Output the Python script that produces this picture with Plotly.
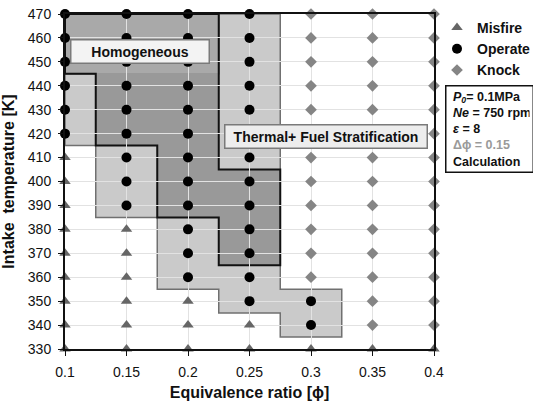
import plotly.graph_objects as go

# ---------------- data ----------------
# Misfire points (phi, T)
misfire_phi = [0.1]*9 + [0.15]*6 + [0.2]*3 + [0.25]*2 + [0.3, 0.35, 0.4]
misfire_T = ([330, 340, 350, 360, 370, 380, 390, 400, 410] +
             [330, 340, 350, 360, 370, 380] +
             [330, 340, 350] +
             [330, 340] +
             [330, 330, 330])

operate_phi = [0.1]*6 + [0.15]*9 + [0.2]*12 + [0.25]*13 + [0.3]*2
operate_T = ([420, 430, 440, 450, 460, 470] +
             [390, 400, 410, 420, 430, 440, 450, 460, 470] +
             [360, 370, 380, 390, 400, 410, 420, 430, 440, 450, 460, 470] +
             [350, 360, 370, 380, 390, 400, 410, 420, 430, 440, 450, 460, 470] +
             [340, 350])

knock_phi = [0.3]*12 + [0.35]*14 + [0.4]*14
knock_T = ([360, 370, 380, 390, 400, 410, 420, 430, 440, 450, 460, 470] +
           [340, 350, 360, 370, 380, 390, 400, 410, 420, 430, 440, 450, 460, 470] +
           [340, 350, 360, 370, 380, 390, 400, 410, 420, 430, 440, 450, 460, 470])

# Thermal + fuel stratification operating region (boundary)
strat_phi = [0.1, 0.1, 0.125, 0.125, 0.175, 0.175, 0.225, 0.225, 0.275, 0.275,
             0.325, 0.325, 0.275, 0.275, 0.225, 0.225, 0.1]
strat_T = [445, 415, 415, 385, 385, 355, 355, 345, 345, 335,
           335, 355, 355, 470, 470, 445, 445]

# Homogeneous operating region (boundary)
homo_phi = [0.1, 0.1, 0.125, 0.125, 0.175, 0.175, 0.225, 0.225, 0.275, 0.275,
            0.225, 0.225, 0.1]
homo_T = [470, 445, 445, 415, 415, 385, 385, 365, 365, 405, 405, 470, 470]

# Homogeneous-only part (not overlapping stratification)
homo_only_phi = [0.1, 0.1, 0.225, 0.225, 0.1]
homo_only_T = [470, 445, 445, 470, 470]

# Overlap of both regions
overlap_phi = [0.125, 0.125, 0.175, 0.175, 0.225, 0.225, 0.275, 0.275, 0.225, 0.225, 0.125]
overlap_T = [445, 415, 415, 385, 385, 365, 365, 405, 405, 445, 445]

x_ticks = [0.1, 0.15, 0.2, 0.25, 0.3, 0.35, 0.4]
x_tick_labels = ["0.1", "0.15", "0.2", "0.25", "0.3", "0.35", "0.4"]
y_ticks = [330, 340, 350, 360, 370, 380, 390, 400, 410, 420, 430, 440, 450, 460, 470]

FONT = "Liberation Sans, Arial, sans-serif"


def path_of(xs, ys):
    p = "M %g,%g " % (xs[0], ys[0])
    for a, b in zip(xs[1:], ys[1:]):
        p += "L %g,%g " % (a, b)
    return p + "Z"


fig = go.Figure()

shapes = [
    dict(type="path", path=path_of(strat_phi, strat_T), xref="x", yref="y",
         fillcolor="#cacaca", line=dict(color="#707070", width=1.5), layer="below"),
    dict(type="path", path=path_of(homo_only_phi, homo_only_T), xref="x", yref="y",
         fillcolor="#a9a9a9", line=dict(width=0), layer="below"),
    dict(type="path", path=path_of(overlap_phi, overlap_T), xref="x", yref="y",
         fillcolor="#999999", line=dict(width=0), layer="below"),
    dict(type="path", path=path_of(homo_phi, homo_T), xref="x", yref="y",
         fillcolor="rgba(0,0,0,0)", line=dict(color="#111111", width=2), layer="below"),
]

fig.add_trace(go.Scatter(x=misfire_phi, y=misfire_T, mode="markers", name="Misfire",
                         marker=dict(symbol="triangle-up", size=10, color="#666666"),
                         cliponaxis=False))
fig.add_trace(go.Scatter(x=operate_phi, y=operate_T, mode="markers", name="Operate",
                         marker=dict(symbol="circle", size=10, color="#000000"),
                         cliponaxis=False))
fig.add_trace(go.Scatter(x=knock_phi, y=knock_T, mode="markers", name="Knock",
                         marker=dict(symbol="diamond", size=9, color="#858585"),
                         cliponaxis=False))

annotations = [
    dict(x=0.1606, y=454.5, xref="x", yref="y", text="<b>Homogeneous</b>",
         showarrow=False, font=dict(family=FONT, size=14, color="#111"),
         bgcolor="#f3f3f3", bordercolor="#7a7a7a", borderwidth=1.5,
         width=135, height=20, borderpad=1),
    dict(x=0.3118, y=418.6, xref="x", yref="y", text="<b>Thermal+ Fuel Stratification</b>",
         showarrow=False, font=dict(family=FONT, size=14, color="#111"),
         bgcolor="#ededed", bordercolor="#7a7a7a", borderwidth=1.5,
         width=199, height=20, borderpad=1),
    dict(x=(445 - 65) / 369, y=(349 - 85) / 335, xref="paper", yref="paper",
         xanchor="left", yanchor="top", align="left", width=80,
         text=("<b>&nbsp;<i>P<sub>0</sub></i>= 0.1MPa</b><br>"
               "<b>&nbsp;<i>Ne</i> = 750 rpm</b><br>"
               "<b>&nbsp;<i>ε</i> = 8</b><br>"
               "<b>&nbsp;<span style='color:#9a9a9a'>Δϕ = 0.15</span></b><br>"
               "<b>&nbsp;Calculation</b>"),
         showarrow=False, font=dict(family=FONT, size=12.5, color="#111"),
         bgcolor="white", bordercolor="#111", borderwidth=1.5, borderpad=3),
]

axis_common = dict(showline=True, mirror=True, linecolor="#111111", linewidth=2,
                   ticks="outside", ticklen=5, tickcolor="#111111", tickwidth=1,
                   showgrid=True, gridcolor="#e2e2e2", gridwidth=1, zeroline=False,
                   tickfont=dict(family=FONT, size=14, color="#111"))

fig.update_layout(
    width=533, height=402,
    margin=dict(l=65, r=99, t=14, b=53, autoexpand=False),
    paper_bgcolor="white", plot_bgcolor="white",
    shapes=shapes, annotations=annotations,
    showlegend=True,
    legend=dict(x=437 / 533, y=1 - 12 / 402, xref="container", yref="container",
                xanchor="left", yanchor="top",
                bgcolor="rgba(0,0,0,0)", borderwidth=0,
                font=dict(family=FONT, size=14, color="#111", weight="bold"),
                tracegroupgap=0),
    xaxis=dict(range=[0.1, 0.4], tickvals=x_ticks, ticktext=x_tick_labels,
               ticklabelstandoff=4,
               title=dict(text="<b>Equivalence ratio [ϕ]</b>", standoff=8,
                          font=dict(family=FONT, size=16, color="#111")),
               **axis_common),
    yaxis=dict(range=[330, 470], tickvals=y_ticks, ticklabelstandoff=4,
               title=dict(text="<b>Intake  temperature [K]</b>", standoff=9,
                          font=dict(family=FONT, size=16, color="#111")),
               **axis_common),
)

fig.write_html("out.html")
